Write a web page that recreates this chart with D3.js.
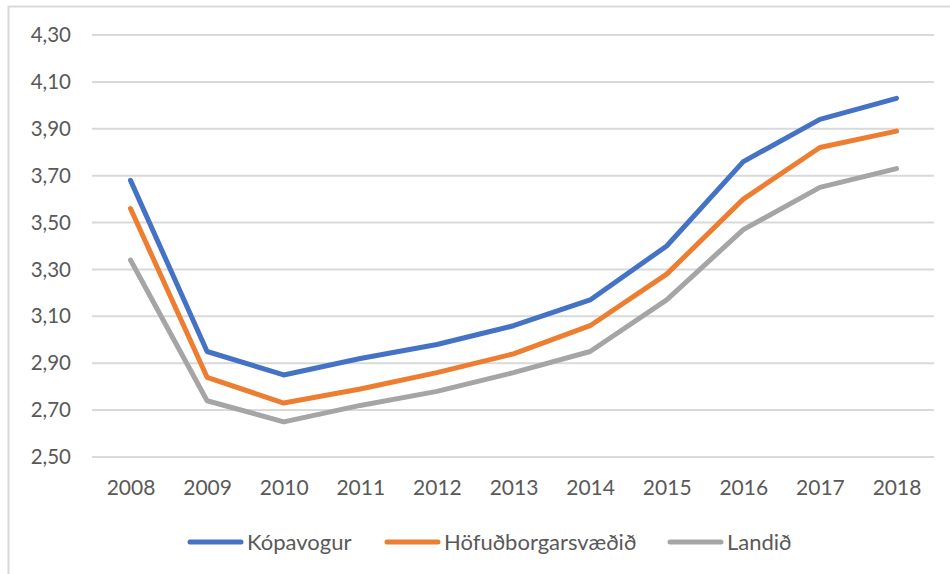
<!DOCTYPE html>
<html>
<head>
<meta charset="utf-8">
<script src="https://cdn.jsdelivr.net/npm/d3@7"></script>
<style>
  html, body { margin: 0; padding: 0; background: #fff; }
  svg { display: block; }
  text { font-family: Lato, "Open Sans", sans-serif; fill: #595959; }
</style>
</head>
<body>
<svg id="chart" width="950" height="574"></svg>
<script>
// Years on the horizontal axis
const years = ["2008","2009","2010","2011","2012","2013","2014","2015","2016","2017","2018"];
// Series values
const kopavogur = [3.68, 2.95, 2.85, 2.92, 2.98, 3.06, 3.17, 3.40, 3.76, 3.94, 4.03];
const hofudborgarsvaedid = [3.56, 2.84, 2.73, 2.79, 2.86, 2.94, 3.06, 3.28, 3.60, 3.82, 3.89];
const landid = [3.34, 2.74, 2.65, 2.72, 2.78, 2.86, 2.95, 3.17, 3.47, 3.65, 3.73];
// Y tick values
const yTicks = [2.5, 2.7, 2.9, 3.1, 3.3, 3.5, 3.7, 3.9, 4.1, 4.3];

const seriesNames = ["Kópavogur", "Höfuðborgarsvæðið", "Landið"];
const seriesColors = ["#4472C4", "#ED7D31", "#A5A5A5"];
const series = [kopavogur, hofudborgarsvaedid, landid].map((v, i) => ({
  name: seriesNames[i], color: seriesColors[i], values: v
}));

const svg = d3.select("#chart");

// Chart area frame
svg.append("rect")
  .attr("x", 8.5).attr("y", 6.5)
  .attr("width", 960).attr("height", 600)
  .attr("fill", "none").attr("stroke", "#D9D9D9").attr("stroke-width", 2);

const plot = { left: 92, right: 934, top: 35, bottom: 457 };

const x = d3.scalePoint().domain(years).range([130.5, 896.5]);
const y = d3.scaleLinear().domain([2.5, 4.3]).range([plot.bottom, plot.top]);

// Horizontal gridlines
svg.append("g").selectAll("line").data(yTicks).join("line")
  .attr("x1", plot.left).attr("x2", plot.right)
  .attr("y1", d => y(d)).attr("y2", d => y(d))
  .attr("stroke", "#D9D9D9").attr("stroke-width", 2);

// Y axis labels
const fmt = d => d.toFixed(2).replace(".", ",");
const yAxis = svg.append("g")
  .attr("transform", `translate(${plot.left - 21},0)`)
  .call(d3.axisLeft(y).tickValues(yTicks).tickFormat(fmt).tickSize(0).tickPadding(0));
yAxis.select(".domain").remove();
yAxis.selectAll("text")
  .style("font-family", "Lato, 'Open Sans', sans-serif")
  .style("font-size", "20.5px").attr("fill", "#595959");

// X axis labels
const xAxis = svg.append("g")
  .attr("transform", `translate(0,${plot.bottom})`)
  .call(d3.axisBottom(x).tickSize(0).tickPadding(23));
xAxis.select(".domain").remove();
xAxis.selectAll("text")
  .style("font-family", "Lato, 'Open Sans', sans-serif")
  .style("font-size", "21px").attr("fill", "#595959");

// Lines
const line = d3.line().x((d, i) => x(years[i])).y(d => y(d));
svg.append("g").selectAll("path").data(series.slice().reverse()).join("path")
  .attr("d", d => line(d.values))
  .attr("fill", "none")
  .attr("stroke", d => d.color)
  .attr("stroke-width", 5)
  .attr("stroke-linejoin", "round")
  .attr("stroke-linecap", "round");

// Legend
const legendX = [188, 385, 668];
const legend = svg.append("g").selectAll("g").data(series).join("g")
  .attr("transform", (d, i) => `translate(${legendX[i]},542)`);
legend.append("line")
  .attr("x1", 2).attr("x2", 53).attr("y1", 0).attr("y2", 0)
  .attr("stroke", d => d.color).attr("stroke-width", 5).attr("stroke-linecap", "round");
legend.append("text")
  .attr("x", 59).attr("y", 0).attr("dy", "0.35em")
  .style("font-size", "22px")
  .text(d => d.name);
</script>
</body>
</html>
